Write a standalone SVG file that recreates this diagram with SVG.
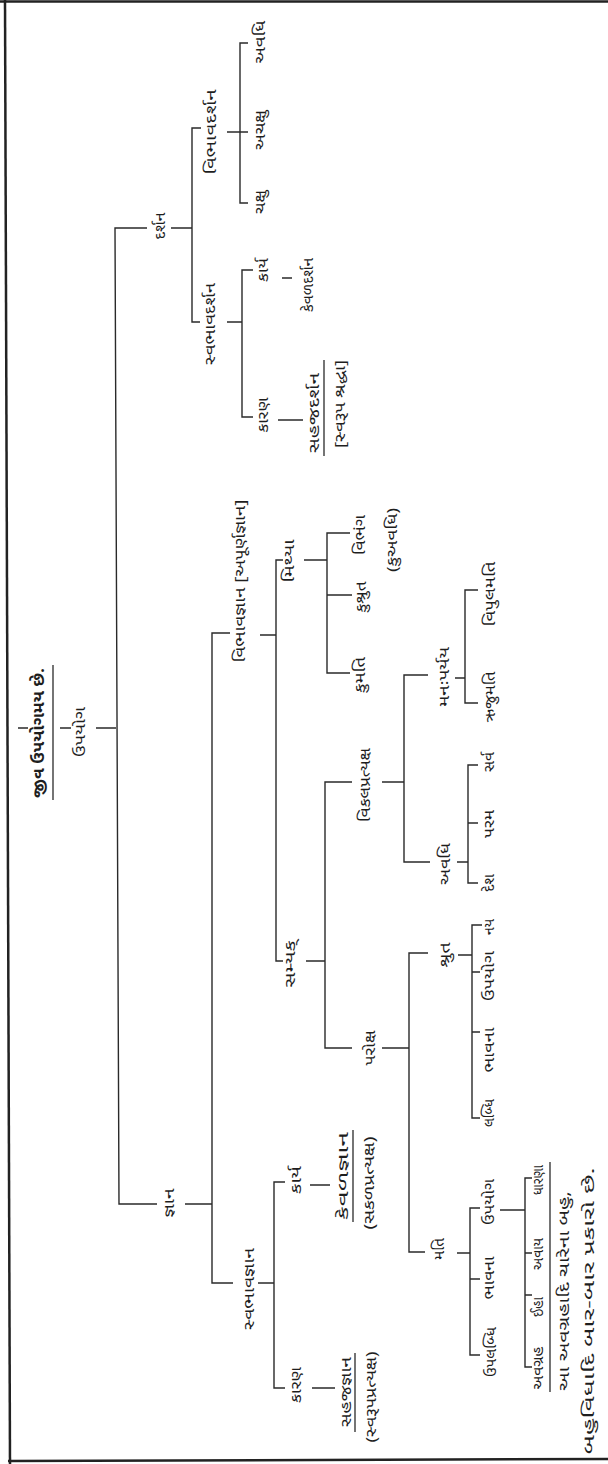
<svg xmlns="http://www.w3.org/2000/svg" width="608" height="1464" viewBox="0 0 608 1464">
<style>
.t{font-family:"Noto Sans Gujarati","Noto Sans","DejaVu Sans",sans-serif;font-size:15px;fill:#1e1e1e;text-anchor:middle;dominant-baseline:central}
.b{font-weight:bold;font-size:16px}
.c{stroke:#2a2a2a;stroke-width:1.4;fill:none}
.u{stroke:#2a2a2a;stroke-width:1.3;fill:none}
.f{stroke:#222;stroke-width:2.5;fill:none}
</style>
<rect width="608" height="1464" fill="#ffffff"/>
<g id="frame">
<line class="f" x1="0" y1="1.5" x2="608" y2="1.5"/>
<line class="f" x1="5" y1="0" x2="10" y2="1464"/>
<line class="f" x1="8" y1="1461" x2="608" y2="1459"/>
</g>
<g id="connectors">
<path class="c" d="M18,728H28 M60,728H71 M96,728H116"/>
<path class="c" d="M147,228H115L119,1204H157"/>
<path class="c" d="M171,228H192 M201,128H192V322H200"/>
<path class="c" d="M227,132H248 M248,43H240V203H248"/>
<path class="c" d="M227,322H242 M253,270H242V417H253 M282,278H292 M278,420H303"/>
<path class="c" d="M185,1204H212 M230,633H212V1283H233"/>
<path class="c" d="M260,635H276 M283,560H276V961H283"/>
<path class="c" d="M304,560H327 M350,533H327V673H350 M327,595H352"/>
<path class="c" d="M306,961H325 M352,782H325V1048H352"/>
<path class="c" d="M382,782H404 M428,675H404V862H430"/>
<path class="c" d="M455,678H465 M478,590H465V703H478"/>
<path class="c" d="M457,862H468 M478,765H468V883H478 M468,823H478"/>
<path class="c" d="M382,1048H409 M428,953H409V1252H425"/>
<path class="c" d="M458,955H472 M482,925H472V1118H480 M472,972H480 M472,1032H480"/>
<path class="c" d="M457,1253H470 M480,1208H470V1355H480 M470,1279H480"/>
<path class="c" d="M500,1210H525 M532,1178H525V1367H532 M525,1253H532 M525,1295H532"/>
<path class="c" d="M258,1283H274 M285,1182H274V1388H285 M310,1185H330 M312,1388H335"/>
</g>
<g id="n-root"><text class="t b" transform="translate(40,733) rotate(-90)" textLength="130" lengthAdjust="spacingAndGlyphs">જીવ ઉપયોગમય છે.</text><line class="u" x1="53" y1="665" x2="53" y2="800"/></g>
<g id="n-upayog"><text class="t" transform="translate(81,732) rotate(-90)" textLength="50" lengthAdjust="spacingAndGlyphs">ઉપયોગ</text></g>
<g id="n-darshan"><text class="t" transform="translate(161,226) rotate(-90)" textLength="27" lengthAdjust="spacingAndGlyphs">દર્શન</text></g>
<g id="n-jnana"><text class="t" transform="translate(170,1203) rotate(-90)" textLength="29" lengthAdjust="spacingAndGlyphs">જ્ઞાન</text></g>
<g id="n-vibhavdarshan"><text class="t" transform="translate(212,132) rotate(-90)" textLength="85" lengthAdjust="spacingAndGlyphs">વિભાવદર્શન</text></g>
<g id="n-svabhavdarshan"><text class="t" transform="translate(211,324) rotate(-90)" textLength="82" lengthAdjust="spacingAndGlyphs">સ્વભાવદર્શન</text></g>
<g id="n-avadhi-d"><text class="t" transform="translate(261,42) rotate(-90)" textLength="43" lengthAdjust="spacingAndGlyphs">અવધિ</text></g>
<g id="n-achakshu"><text class="t" transform="translate(261,130) rotate(-90)" textLength="40" lengthAdjust="spacingAndGlyphs">અચક્ષુ</text></g>
<g id="n-chakshu"><text class="t" transform="translate(261,202) rotate(-90)" textLength="24" lengthAdjust="spacingAndGlyphs">ચક્ષુ</text></g>
<g id="n-karya-d"><text class="t" transform="translate(264,270) rotate(-90)" textLength="24" lengthAdjust="spacingAndGlyphs">કાર્ય</text></g>
<g id="n-karan-d"><text class="t" transform="translate(264,415) rotate(-90)" textLength="35" lengthAdjust="spacingAndGlyphs">કારણ</text></g>
<g id="n-kevaldarshan"><text class="t" transform="translate(309,285) rotate(-90)" textLength="54" lengthAdjust="spacingAndGlyphs">કેવળદર્શન</text></g>
<g id="n-sahajdarshan"><text class="t" transform="translate(315,413) rotate(-90)" textLength="80" lengthAdjust="spacingAndGlyphs">સહજદર્શન</text><line class="u" x1="324" y1="360" x2="324" y2="456"/><text class="t" transform="translate(341,404) rotate(-90)" textLength="88" lengthAdjust="spacingAndGlyphs">[સ્વરૂપ શ્રદ્ધા]</text></g>
<g id="n-vibhavjnana"><text class="t" transform="translate(241,581) rotate(-90)" textLength="163" lengthAdjust="spacingAndGlyphs">વિભાવજ્ઞાન [અપૂર્ણજ્ઞાન]</text></g>
<g id="n-svabhavjnana"><text class="t" transform="translate(250,1289) rotate(-90)" textLength="82" lengthAdjust="spacingAndGlyphs">સ્વભાવજ્ઞાન</text></g>
<g id="n-mithya"><text class="t" transform="translate(290,561) rotate(-90)" textLength="43" lengthAdjust="spacingAndGlyphs">મિથ્યા</text></g>
<g id="n-samyak"><text class="t" transform="translate(291,964) rotate(-90)" textLength="47" lengthAdjust="spacingAndGlyphs">સમ્યક્</text></g>
<g id="n-kumati"><text class="t" transform="translate(361,675) rotate(-90)" textLength="36" lengthAdjust="spacingAndGlyphs">કુમતિ</text></g>
<g id="n-kushrut"><text class="t" transform="translate(362,597) rotate(-90)" textLength="31" lengthAdjust="spacingAndGlyphs">કુશ્રુત</text></g>
<g id="n-vibhang"><text class="t" transform="translate(361,535) rotate(-90)" textLength="40" lengthAdjust="spacingAndGlyphs">વિભંગ</text><text class="t" transform="translate(393,540) rotate(-90)" textLength="64" lengthAdjust="spacingAndGlyphs">(કુઅવધિ)</text></g>
<g id="n-vikalpratyaksh"><text class="t" transform="translate(366,785) rotate(-90)" textLength="74" lengthAdjust="spacingAndGlyphs">વિકલપ્રત્યક્ષ</text></g>
<g id="n-paroksh"><text class="t" transform="translate(371,1048) rotate(-90)" textLength="35" lengthAdjust="spacingAndGlyphs">પરોક્ષ</text></g>
<g id="n-manahparyay"><text class="t" transform="translate(445,677) rotate(-90)" textLength="60" lengthAdjust="spacingAndGlyphs">મનઃપર્યય</text></g>
<g id="n-vipulmati"><text class="t" transform="translate(491,594) rotate(-90)" textLength="65" lengthAdjust="spacingAndGlyphs">વિપુલમતિ</text></g>
<g id="n-rujumati"><text class="t" transform="translate(491,697) rotate(-90)" textLength="51" lengthAdjust="spacingAndGlyphs">ઋજુમતિ</text></g>
<g id="n-avadhi-j"><text class="t" transform="translate(446,864) rotate(-90)" textLength="42" lengthAdjust="spacingAndGlyphs">અવધિ</text></g>
<g id="n-sarva"><text class="t" transform="translate(490,762) rotate(-90)" textLength="20" lengthAdjust="spacingAndGlyphs">સર્વ</text></g>
<g id="n-param"><text class="t" transform="translate(490,824) rotate(-90)" textLength="28" lengthAdjust="spacingAndGlyphs">પરમ</text></g>
<g id="n-desh"><text class="t" transform="translate(490,883) rotate(-90)" textLength="18" lengthAdjust="spacingAndGlyphs">દેશ</text></g>
<g id="n-shrut"><text class="t" transform="translate(446,955) rotate(-90)" textLength="25" lengthAdjust="spacingAndGlyphs">શ્રુત</text></g>
<g id="n-nay"><text class="t" transform="translate(490,927) rotate(-90)" textLength="16" lengthAdjust="spacingAndGlyphs">નય</text></g>
<g id="n-upayog-s"><text class="t" transform="translate(490,976) rotate(-90)" textLength="50" lengthAdjust="spacingAndGlyphs">ઉપયોગ</text></g>
<g id="n-bhavna-s"><text class="t" transform="translate(490,1050) rotate(-90)" textLength="45" lengthAdjust="spacingAndGlyphs">ભાવના</text></g>
<g id="n-labdhi"><text class="t" transform="translate(490,1113) rotate(-90)" textLength="28" lengthAdjust="spacingAndGlyphs">લબ્ધિ</text></g>
<g id="n-mati"><text class="t" transform="translate(440,1249) rotate(-90)" textLength="22" lengthAdjust="spacingAndGlyphs">મતિ</text></g>
<g id="n-upayog-m"><text class="t" transform="translate(490,1202) rotate(-90)" textLength="46" lengthAdjust="spacingAndGlyphs">ઉપયોગ</text></g>
<g id="n-bhavna-m"><text class="t" transform="translate(490,1278) rotate(-90)" textLength="43" lengthAdjust="spacingAndGlyphs">ભાવના</text></g>
<g id="n-upalabdhi"><text class="t" transform="translate(492,1352) rotate(-90)" textLength="50" lengthAdjust="spacingAndGlyphs">ઉપલબ્ધિ</text></g>
<g id="n-dharana"><text class="t" transform="translate(539,1180) rotate(-90)" textLength="30" lengthAdjust="spacingAndGlyphs">ધારણા</text></g>
<g id="n-avay"><text class="t" transform="translate(539,1254) rotate(-90)" textLength="32" lengthAdjust="spacingAndGlyphs">અવાય</text></g>
<g id="n-iha"><text class="t" transform="translate(539,1307) rotate(-90)" textLength="20" lengthAdjust="spacingAndGlyphs">ઈહા</text></g>
<g id="n-avagrah"><text class="t" transform="translate(539,1368) rotate(-90)" textLength="43" lengthAdjust="spacingAndGlyphs">અવગ્રહ</text><line class="u" x1="550" y1="1162" x2="550" y2="1392"/></g>
<g id="n-note"><text class="t" transform="translate(565,1291) rotate(-90)" textLength="200" lengthAdjust="spacingAndGlyphs">આ અવગ્રહાદિ ચારેના બહુ,</text><text class="t" transform="translate(590,1311) rotate(-90)" textLength="287" lengthAdjust="spacingAndGlyphs">બહુવિધાદિ બાર-બાર પ્રકારો છે.</text></g>
<g id="n-karya-j"><text class="t" transform="translate(297,1180) rotate(-90)" textLength="28" lengthAdjust="spacingAndGlyphs">કાર્ય</text></g>
<g id="n-karan-j"><text class="t" transform="translate(297,1385) rotate(-90)" textLength="36" lengthAdjust="spacingAndGlyphs">કારણ</text></g>
<g id="n-kevaljnana"><text class="t" transform="translate(344,1176) rotate(-90)" textLength="88" lengthAdjust="spacingAndGlyphs">કેવળજ્ઞાન</text><line class="u" x1="353" y1="1130" x2="353" y2="1222"/><text class="t" transform="translate(370,1183) rotate(-90)" textLength="93" lengthAdjust="spacingAndGlyphs">(સકળપ્રત્યક્ષ)</text></g>
<g id="n-sahajjnana"><text class="t" transform="translate(347,1392) rotate(-90)" textLength="70" lengthAdjust="spacingAndGlyphs">સહજજ્ઞાન</text><line class="u" x1="355" y1="1353" x2="355" y2="1432"/><text class="t" transform="translate(372,1397) rotate(-90)" textLength="91" lengthAdjust="spacingAndGlyphs">(સ્વરૂપપ્રત્યક્ષ)</text></g>
</svg>
